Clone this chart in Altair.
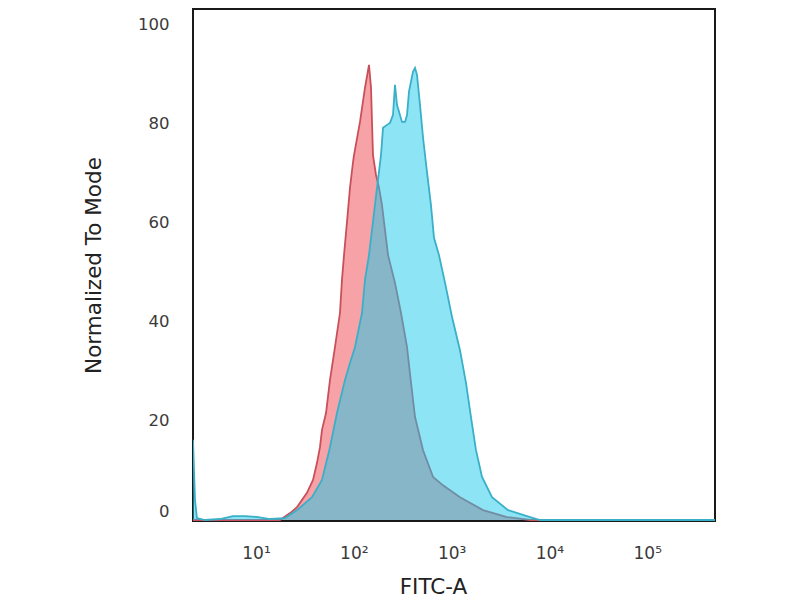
import altair as alt
import pandas as pd

# red histogram (control), FITC-A intensity vs. % of mode
red_x = [2.27, 17.6, 22.3, 26.3, 33.2, 38.3, 42.0, 45.1, 47.3, 52.0, 57.1, 64.2,
         72.2, 75.7, 79.4, 85.2, 91.4, 98.2, 100.5, 115.7, 130.2, 143.0, 150.0,
         153.5, 157.1, 168.6, 181.1, 194.2, 203.6, 223.9, 263.7, 303.9, 350.0,
         384.6, 422.7, 510.5, 645.7, 816.6, 1218, 2094, 3683, 6339, 493000]
red_y = [0, 0, 1.4, 2.6, 5.5, 8.1, 11.5, 14.7, 18.2, 21.6, 28.3, 34.9,
         41.8, 48.5, 53.5, 60.2, 67.1, 72.3, 73.7, 80.4, 87.3, 91.9, 87.3,
         80.4, 73.7, 69.7, 67.1, 63.6, 60.2, 53.5, 47.9, 41.8, 34.9,
         27.7, 20.8, 14.1, 8.7, 7.0, 4.6, 2.0, 0.6, 0, 0]

# cyan histogram (stained sample)
cyan_x = [2.27, 2.38, 2.49, 3.01, 4.29, 5.82, 7.73, 10.5, 13.9, 19.8, 26.3, 37.4,
          47.3, 57.1, 67.3, 81.3, 91.4, 102.8, 121.3, 130.2, 143.0, 157.1, 172.6,
          189.7, 198.9, 218.5, 234.4, 251.6, 263.7, 276.6, 311.3, 334.2, 350.0,
          366.6, 402.7, 422.7, 442.8, 475.3, 510.5, 559.8, 615.2, 660.5, 743.0,
          857.0, 1010, 1218, 1403, 1578, 1775, 2046, 2589, 3774, 6339, 8017, 493000]
cyan_y = [16.2, 4.0, 0.4, 0, 0.2, 0.8, 0.8, 0.6, 0.2, 0.4, 2.0, 4.6,
          8.1, 14.7, 21.6, 28.3, 31.7, 34.9, 41.8, 48.5, 53.5, 60.2, 67.1,
          73.7, 79.2, 79.8, 80.2, 81.8, 87.9, 83.8, 80.4, 80.4, 81.8,
          86.5, 90.5, 91.3, 89.9, 83.8, 77.2, 70.3, 63.6, 57.0, 53.5,
          47.9, 41.0, 34.3, 27.7, 20.8, 14.1, 8.7, 4.6, 2.0, 0.6, 0, 0]

x_ticks = [10, 100, 1000, 10000, 100000]
y_ticks = [0, 20, 40, 60, 80, 100]

red = pd.DataFrame({'FITC-A': red_x, 'mode': red_y})
cyan = pd.DataFrame({'FITC-A': cyan_x, 'mode': cyan_y})

x_enc = alt.X('FITC-A:Q',
              scale=alt.Scale(type='log', domain=[2.27, 493000], nice=False),
              axis=alt.Axis(values=x_ticks, title='FITC-A',
                            labelExpr="'10' + ['⁰','¹','²','³','⁴','⁵'][round(log(datum.value) / LN10)]",
                            labelPadding=24, labelFontSize=17,
                            titleX=240, titleY=72, titleBaseline='alphabetic'))
y_enc = alt.Y('mode:Q',
              scale=alt.Scale(domain=[-0.2, 103.2], nice=False, zero=False),
              axis=alt.Axis(values=y_ticks, title='Normalized To Mode',
                            labelPadding=24, labelFontSize=16.5,
                            labelOffset={"condition": {"test": "datum.value === 0", "value": -9}, "value": 0},
                            titleX=-93, titleY=256, titleBaseline='alphabetic'))

red_area = alt.Chart(red).mark_area(color='#F7A2A6', opacity=1, clip=True).encode(x=x_enc, y=y_enc)
red_line = alt.Chart(red).mark_line(color='#C9505A', strokeWidth=1.8, clip=True).encode(x=x_enc, y=y_enc)
cyan_area = alt.Chart(cyan).mark_area(color='#19C9EB', opacity=0.5, clip=True).encode(x=x_enc, y=y_enc)
cyan_line = alt.Chart(cyan).mark_line(color='#3AAFC8', strokeWidth=1.8, clip=True).encode(x=x_enc, y=y_enc)

chart = alt.layer(red_area, red_line, cyan_area, cyan_line).properties(
    width=522,
    height=512,
    autosize=alt.AutoSizeParams(type='none'),
    padding={'left': 185, 'top': 1, 'right': 70, 'bottom': 95}
).configure_view(
    stroke='#1a1a1a', strokeWidth=2
).configure_axis(
    domain=False, ticks=False, grid=False,
    labelFont='DejaVu Sans', labelColor='#3a3a3a',
    titleFont='DejaVu Sans', titleFontSize=21.5, titleFontWeight='normal', titleColor='#222222'
)

chart.save("out.html", embed_options={"renderer": "svg", "actions": False})
